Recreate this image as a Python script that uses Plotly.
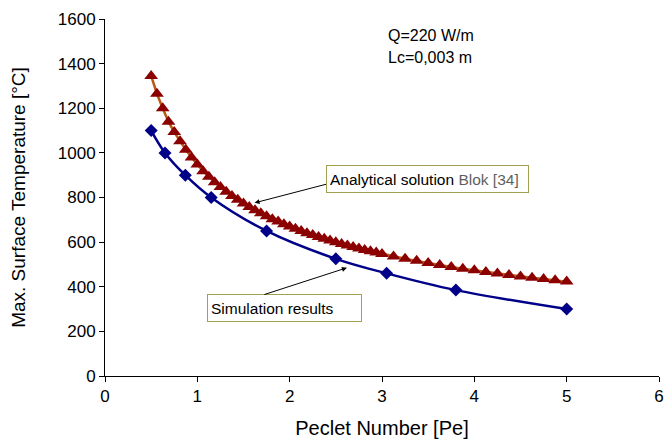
import plotly.graph_objects as go

# Simulation results (blue diamonds)
sim_pe = [0.5, 0.65, 0.87, 1.15, 1.75, 2.5, 3.05, 3.8, 5.0]
sim_temp = [1100, 1000, 900, 800, 650, 525, 460, 385, 300]

# Analytical solution Blok [34] (red triangles)
ana_pe = [0.5, 0.5625, 0.625, 0.6875, 0.75, 0.8125, 0.875, 0.9375, 1.0, 1.0625,
          1.125, 1.1875, 1.25, 1.3125, 1.375, 1.4375, 1.5, 1.5625, 1.625, 1.6875,
          1.75, 1.8125, 1.875, 1.9375, 2.0, 2.0625, 2.125, 2.1875, 2.25, 2.3125,
          2.375, 2.4375, 2.5, 2.5625, 2.625, 2.6875, 2.75, 2.8125, 2.875, 2.9375,
          3.0, 3.125, 3.25, 3.375, 3.5, 3.625, 3.75, 3.875, 4.0, 4.125,
          4.25, 4.375, 4.5, 4.625, 4.75, 4.875, 5.0]
ana_temp = [1345, 1265, 1200, 1140, 1093, 1052, 1014, 979, 948, 918,
            893, 868, 847, 826, 807, 790, 773, 757, 743, 729,
            716, 703, 692, 680, 670, 660, 650, 640, 632, 623,
            615, 607, 599, 592, 585, 578, 571, 565, 559, 553,
            547, 536, 526, 516, 506, 497, 489, 481, 474, 466,
            459, 453, 446, 440, 435, 429, 423]

x_ticks = [0, 1, 2, 3, 4, 5, 6]
y_ticks = [0, 200, 400, 600, 800, 1000, 1200, 1400, 1600]

FONT = "Liberation Sans, Arial, sans-serif"

fig = go.Figure()
fig.add_trace(go.Scatter(
    x=ana_pe, y=ana_temp, mode="lines+markers", name="Analytical solution",
    line=dict(color="#B85A14", width=2.5),
    marker=dict(symbol="triangle-up", size=12, color="#8B0000",
                line=dict(width=0)),
))
fig.add_trace(go.Scatter(
    x=sim_pe, y=sim_temp, mode="lines+markers", name="Simulation results",
    line=dict(color="#000088", width=2.5, shape="spline"),
    marker=dict(symbol="diamond", size=10, color="#000088",
                line=dict(width=0)),
))

annotations = [
    dict(x=0.508, y=0.955, xref="paper", yref="paper", xanchor="left", yanchor="middle",
         text="Q=220 W/m", showarrow=False, font=dict(size=16, color="black", family=FONT)),
    dict(x=0.508, y=0.893, xref="paper", yref="paper", xanchor="left", yanchor="middle",
         text="Lc=0,003 m", showarrow=False, font=dict(size=16, color="black", family=FONT)),
    # boxes
    dict(x=3.49, y=884, xref="x", yref="y", xanchor="center", yanchor="middle",
         text="Analytical solution <span style='color:#5f5f5f'>Blok [34]</span>",
         showarrow=False, align="left", width=195, height=20,
         bordercolor="#A0A050", borderwidth=1, borderpad=3, bgcolor="white",
         font=dict(size=15.5, color="black", family=FONT)),
    dict(x=1.94, y=305, xref="x", yref="y", xanchor="center", yanchor="middle",
         text="Simulation results",
         showarrow=False, align="left", width=147, height=20,
         bordercolor="#A0A050", borderwidth=1, borderpad=3, bgcolor="white",
         font=dict(size=15.5, color="black", family=FONT)),
    # arrows
    dict(x=1.62, y=776, ax=2.41, ay=861, xref="x", yref="y", axref="x", ayref="y",
         text="", showarrow=True, arrowhead=2, arrowsize=1, arrowwidth=1, arrowcolor="black"),
    dict(x=2.62, y=485, ax=1.71, ay=363, xref="x", yref="y", axref="x", ayref="y",
         text="", showarrow=True, arrowhead=2, arrowsize=1, arrowwidth=1, arrowcolor="black"),
]

fig.update_layout(
    width=665, height=442,
    margin=dict(l=105, r=6, t=19, b=66),
    paper_bgcolor="white", plot_bgcolor="white",
    showlegend=False,
    font=dict(family=FONT, color="black"),
    annotations=annotations,
)
fig.update_xaxes(
    range=[0, 6], tickvals=x_ticks, ticktext=[str(v) for v in x_ticks],
    showgrid=False, zeroline=False, showline=True, linecolor="black", linewidth=1,
    ticks="outside", ticklen=5, tickcolor="black", automargin=False,
    tickfont=dict(size=17, family=FONT),
    title=dict(text="Peclet Number [Pe]", font=dict(size=20, family=FONT), standoff=15),
)
fig.update_yaxes(
    range=[0, 1600], tickvals=y_ticks, ticktext=[str(v) for v in y_ticks],
    showgrid=False, zeroline=False, showline=True, linecolor="black", linewidth=1,
    ticks="outside", ticklen=5, tickcolor="black", automargin=False,
    tickfont=dict(size=17, family=FONT),
    title=dict(text="Max. Surface Temperature [°C]", font=dict(size=19, family=FONT), standoff=27),
)

fig.write_html("out.html", config={"displayModeBar": False},
               post_script="document.body.style.margin='0';document.body.style.overflow='hidden';")
